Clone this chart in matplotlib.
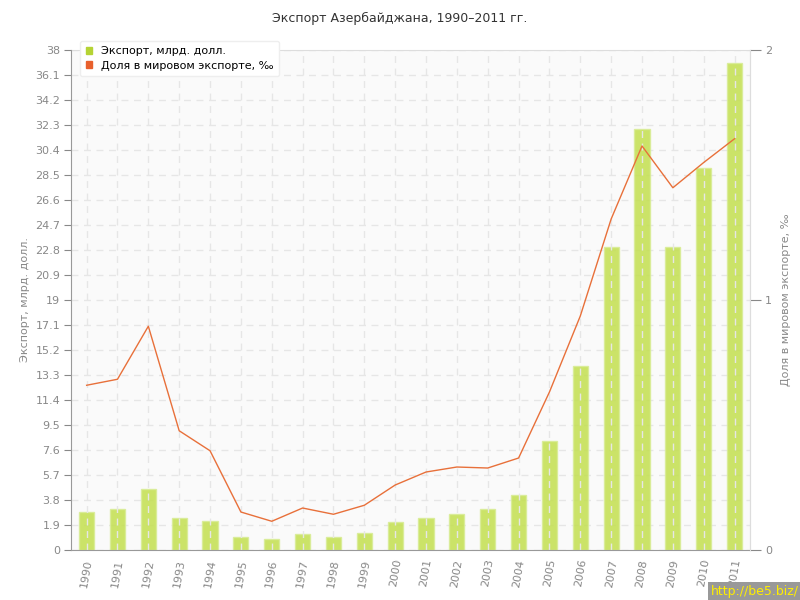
import matplotlib
matplotlib.use('Agg')
import matplotlib.pyplot as plt
import numpy as np
from matplotlib.patches import Patch

years = [str(y) for y in range(1990, 2012)]
export = [2.9, 3.1, 4.6, 2.43, 2.2, 1.0, 0.81, 1.22, 1.0, 1.32, 2.13,
          2.43, 2.74, 3.1, 4.2, 8.3, 14.0, 23.0, 32.0, 23.0, 29.0, 37.0]
share = [0.659, 0.683, 0.895, 0.477, 0.397, 0.152, 0.115, 0.168, 0.143, 0.179, 0.26,
         0.312, 0.332, 0.328, 0.368, 0.632, 0.936, 1.324, 1.616, 1.449, 1.55, 1.645]
left_ticks = [0, 1.9, 3.8, 5.7, 7.6, 9.5, 11.4, 13.3, 15.2, 17.1, 19, 20.9,
              22.8, 24.7, 26.6, 28.5, 30.4, 32.3, 34.2, 36.1, 38]
right_ticks = [0, 1, 2]

gray = '#888888'
fig = plt.figure(figsize=(8, 6), dpi=100)
ax = fig.add_axes([0.089, 0.0833, 0.8485, 0.8334])
ax.set_facecolor('#fafafa')
x = np.arange(len(years))

# столбцы экспорта
ax.bar(x, export, width=0.49, color='#c3df4f', alpha=0.85, edgecolor='#d8ec95',
       linewidth=1, zorder=2, label='Экспорт, млрд. долл.')
ax.set_xlim(-0.5, len(years) - 0.5)
ax.set_ylim(0, 38)
ax.set_yticks(left_ticks)
ax.set_yticklabels([f'{t:g}' for t in left_ticks])
ax.set_xticks(x)
ax.set_xticklabels(years, rotation=80)
ax.grid(True, color='#e6e6e6', linestyle=(0, (5, 4)), linewidth=1)
ax.yaxis.set_zorder(0.5)   # горизонтальная сетка под столбцами
ax.xaxis.set_zorder(2.5)   # вертикальная поверх
ax.tick_params(colors=gray, labelsize=8, length=5, pad=3)
ax.tick_params(axis='x', length=0, pad=6)
for s in ['top', 'right']:
    ax.spines[s].set_color('#dddddd')
for s in ['left', 'bottom']:
    ax.spines[s].set_color('#999999')
    ax.spines[s].set_zorder(3)
ax.set_ylabel('Экспорт, млрд. долл.', color=gray, fontsize=8, labelpad=4)

# доля в мировом экспорте
ax2 = ax.twinx()
ax2.plot(x, share, color='#e8703a', linewidth=1, zorder=3,
         label='Доля в мировом экспорте, ‰')
ax2.set_ylim(0, 2)
ax2.set_yticks(right_ticks)
ax2.tick_params(colors=gray, labelsize=8, length=8, pad=3)
for s in ['top', 'left', 'bottom']:
    ax2.spines[s].set_visible(False)
ax2.spines['right'].set_color('#dddddd')
ax2.set_ylabel('Доля в мировом экспорте, ‰', color=gray, fontsize=8, labelpad=6)

fig.text(0.5, 0.97, 'Экспорт Азербайджана, 1990–2011 гг.', ha='center', va='center',
         fontsize=9, color='#333333')

handles = [Patch(color='#b5d334', label='Экспорт, млрд. долл.'),
           Patch(color='#e8602c', label='Доля в мировом экспорте, ‰')]
leg = ax2.legend(handles=handles, loc='upper left', bbox_to_anchor=(0.005, 1.03),
                 fontsize=8, handlelength=0.6, handleheight=0.6, handletextpad=0.8,
                 fancybox=True, shadow=False, framealpha=1, edgecolor='#eeeeee',
                 borderpad=0.5, labelspacing=0.4)
leg.set_zorder(10)

fig.text(0.998, 0.003, 'http://be5.biz/', ha='right', va='bottom', fontsize=9,
         color='#ffee00', bbox=dict(facecolor='#999999', edgecolor='none', pad=2))

fig.savefig('out.png', dpi=100)
